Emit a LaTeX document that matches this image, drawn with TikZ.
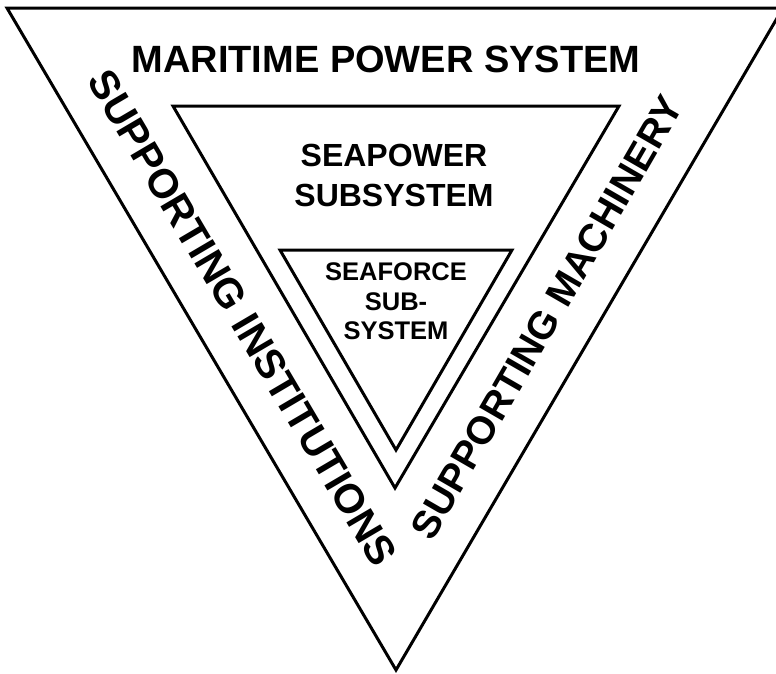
\documentclass[tikz,border=0pt]{standalone}
\usepackage{fontspec}
\setmainfont{Liberation Sans}
\tikzset{
  tri/.style={draw=black,line width=3pt,line join=miter},
  lbl/.style={inner sep=0pt,align=center,font=\bfseries},
  big/.style={lbl,font=\bfseries\fontsize{38}{46}\selectfont},
  mid/.style={lbl,font=\bfseries\fontsize{32}{40}\selectfont},
  small/.style={lbl,font=\bfseries\fontsize{25.5}{29.5}\selectfont},
  side/.style={lbl,font=\bfseries\fontsize{#1}{#1}\selectfont}}
\begin{document}
\begin{tikzpicture}[x=1pt,y=-1pt]
\useasboundingbox[fill=white] (0,0) rectangle (776,673);
% corners of the three triangles
\coordinate (otl) at (7,8);   \coordinate (otr) at (783,8);   \coordinate (ob) at (396,670);
\coordinate (mtl) at (173,106); \coordinate (mtr) at (619,106); \coordinate (mb) at (395,488);
\coordinate (itl) at (280,250); \coordinate (itr) at (512,250); \coordinate (ib) at (396,450);
\draw[tri] (otl) -- (otr) -- (ob) -- cycle;
\draw[tri] (mtl) -- (mtr) -- (mb) -- cycle;
\draw[tri] (itl) -- (itr) -- (ib) -- cycle;
% labels
\node[big,anchor=base] (mps) at (386,72) {MARITIME POWER SYSTEM};
\node[mid] (sps) at (394,175) {SEAPOWER\\SUBSYSTEM};
\node[small] (sfs) at (396,301.5) {SEAFORCE\\SUB-\\SYSTEM};
\node[side=41,rotate=-59.5] (inst) at (243,318) {SUPPORTING INSTITUTIONS};
\node[side=39,rotate=60] (mach) at (547,317.5) {SUPPORTING MACHINERY};
\end{tikzpicture}
\end{document}
